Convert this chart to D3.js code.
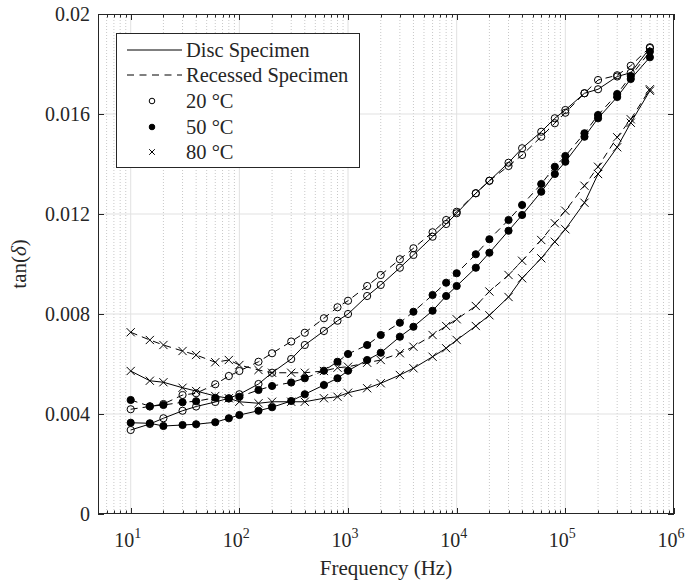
<!DOCTYPE html>
<html><head><meta charset="utf-8">
<script src="https://cdn.jsdelivr.net/npm/d3@7"></script>
<style>body{margin:0;background:#fff}svg{display:block}text{font-family:"Liberation Serif","Times New Roman",serif;fill:#262626}</style>
</head><body><svg id="c" width="689" height="580"></svg>
<script>
const freqs=[10,15,20,30,40,60,80,100,150,200,300,400,600,800,1000,1500,2000,3000,4000,6000,8000,1e4,1.5e4,2e4,3e4,4e4,6e4,8e4,1e5,1.5e5,2e5,3e5,4e5,6e5];
const disc20=[0.00336,0.0036,0.00383,0.00413,0.0043,0.00448,0.00463,0.00479,0.0052,0.00565,0.0062,0.00676,0.00732,0.00773,0.0080,0.00872,0.00916,0.00985,0.01036,0.01109,0.0116,0.01203,0.01283,0.01333,0.01405,0.01463,0.01529,0.01583,0.01616,0.01683,0.01699,0.0175,0.01765,0.01864];
const rec20=[0.00419,0.0043,0.0044,0.00476,0.00483,0.00519,0.00552,0.00572,0.00609,0.00643,0.0069,0.00725,0.00783,0.00827,0.00853,0.00912,0.00956,0.01019,0.01063,0.01127,0.01176,0.01209,0.01283,0.01333,0.01392,0.01436,0.01509,0.01563,0.01605,0.01683,0.01736,0.01755,0.01793,0.01867];
const disc50=[0.00365,0.00363,0.00352,0.00356,0.00359,0.00367,0.00383,0.00396,0.00413,0.00427,0.00452,0.00479,0.00516,0.00543,0.00573,0.00616,0.00645,0.00709,0.00749,0.00813,0.00872,0.00912,0.00985,0.01045,0.01133,0.01196,0.01289,0.0136,0.01409,0.01509,0.01583,0.01668,0.0174,0.01827];
const rec50=[0.00456,0.00431,0.00436,0.00447,0.00451,0.00465,0.00462,0.00469,0.00496,0.00512,0.00526,0.00543,0.00573,0.00609,0.0064,0.00676,0.00716,0.00765,0.00809,0.00876,0.00925,0.00963,0.01039,0.01099,0.01176,0.01236,0.0132,0.01389,0.01432,0.01523,0.01596,0.0168,0.01752,0.0185];
const disc80=[0.00572,0.00533,0.00527,0.00505,0.00492,0.00472,0.00463,0.00449,0.00443,0.00449,0.00449,0.00449,0.00463,0.00469,0.00485,0.00503,0.00523,0.00556,0.00583,0.00629,0.00663,0.00696,0.00752,0.00795,0.00868,0.00943,0.01023,0.01089,0.01139,0.01245,0.0136,0.01467,0.01565,0.01693];
const rec80=[0.00727,0.00696,0.00676,0.00652,0.00636,0.00607,0.00616,0.00596,0.00576,0.00565,0.00565,0.00565,0.00572,0.00585,0.00589,0.00605,0.00616,0.00643,0.00669,0.00716,0.00752,0.00779,0.00832,0.0089,0.00956,0.01013,0.01096,0.01163,0.01213,0.01313,0.01389,0.01507,0.01579,0.01699];
const yTicks=[0,0.004,0.008,0.012,0.016,0.02];
const yTickLabels=["0","0.004","0.008","0.012","0.016","0.02"];
const xTicks=[10,100,1000,1e4,1e5,1e6];
const xTickExp=["1","2","3","4","5","6"];
const legendLabels=["Disc Specimen","Recessed Specimen","20 °C","50 °C","80 °C"];

const L=98,T=14,R=674,B=514;
const svg=d3.select("#c");
const x=d3.scaleLog().domain([5,1e6]).range([L,R]);
const y=d3.scaleLinear().domain([0,0.02]).range([B,T]);
const ink="#262626";

// minor grid
const minor=[];
for(let e=0;e<6;e++)for(let m=1;m<10;m++){const v=m*Math.pow(10,e);if(v>5&&v<1e6&&m!==1)minor.push(v);}
const g=svg.append("g");
g.selectAll(".mg").data(minor).enter().append("line")
 .attr("x1",d=>x(d)).attr("x2",d=>x(d)).attr("y1",T).attr("y2",B)
 .attr("stroke","#c8c8c8").attr("stroke-width",1).attr("stroke-dasharray","1,2");
g.selectAll(".xg").data(xTicks.slice(0,5)).enter().append("line")
 .attr("x1",d=>x(d)).attr("x2",d=>x(d)).attr("y1",T).attr("y2",B)
 .attr("stroke","#e1e1e1").attr("stroke-width",1);
g.selectAll(".yg").data(yTicks.slice(1,5)).enter().append("line")
 .attr("x1",L).attr("x2",R).attr("y1",d=>y(d)).attr("y2",d=>y(d))
 .attr("stroke","#e1e1e1").attr("stroke-width",1);

// series
const series=[
 {v:disc20,dash:null,m:"o"},{v:rec20,dash:"7,5",m:"o"},
 {v:disc50,dash:null,m:"f"},{v:rec50,dash:"7,5",m:"f"},
 {v:disc80,dash:null,m:"x"},{v:rec80,dash:"7,5",m:"x"}];
const line=d3.line().x((d,i)=>x(freqs[i])).y(d=>y(d));
function marker(sel,type,cx,cy,s){
  if(type==="o") sel.append("circle").attr("cx",cx).attr("cy",cy).attr("r",s).attr("fill","none").attr("stroke","#000").attr("stroke-width",1);
  else if(type==="f") sel.append("circle").attr("cx",cx).attr("cy",cy).attr("r",s).attr("fill","#000").attr("stroke","#000").attr("stroke-width",1);
  else { const h=s+0.5; sel.append("path").attr("d",`M${cx-h},${cy-h}L${cx+h},${cy+h}M${cx-h},${cy+h}L${cx+h},${cy-h}`).attr("stroke","#000").attr("stroke-width",1).attr("fill","none"); }
}
series.forEach(s=>{
  svg.append("path").datum(s.v).attr("d",line).attr("fill","none").attr("stroke","#000").attr("stroke-width",1)
   .attr("stroke-dasharray",s.dash);
  const mg=svg.append("g");
  s.v.forEach((d,i)=>marker(mg,s.m,x(freqs[i]),y(d),3.6));
});

// axes box and ticks (inside)
const ax=svg.append("g").attr("stroke",ink).attr("stroke-width",1);
ax.append("rect").attr("x",L+0.5).attr("y",T+0.5).attr("width",R-L-1).attr("height",B-T-1).attr("fill","none");
xTicks.forEach(v=>{const px=Math.round(x(v))+0.5;
  ax.append("line").attr("x1",px).attr("x2",px).attr("y1",B).attr("y2",B-6);
  ax.append("line").attr("x1",px).attr("x2",px).attr("y1",T).attr("y2",T+6);});
minor.forEach(v=>{const px=Math.round(x(v))+0.5;
  ax.append("line").attr("x1",px).attr("x2",px).attr("y1",B).attr("y2",B-3.5);
  ax.append("line").attr("x1",px).attr("x2",px).attr("y1",T).attr("y2",T+3.5);});
yTicks.forEach(v=>{const py=Math.round(y(v))+0.5;
  ax.append("line").attr("x1",L).attr("x2",L+6).attr("y1",py).attr("y2",py);
  ax.append("line").attr("x1",R).attr("x2",R-6).attr("y1",py).attr("y2",py);});

// tick labels
svg.selectAll(".yl").data(yTicks).enter().append("text")
 .attr("x",L-8).attr("y",d=>y(d)+7).attr("text-anchor","end").attr("font-size",20)
 .text((d,i)=>yTickLabels[i]);
xTicks.forEach((v,i)=>{
  const t=svg.append("text").attr("x",x(v)-3).attr("y",547).attr("text-anchor","middle").attr("font-size",20);
  t.append("tspan").text("10");
  t.append("tspan").attr("dy",-9).attr("font-size",14).text(xTickExp[i]);
});
svg.append("text").attr("x",(L+R)/2).attr("y",575).attr("text-anchor","middle").attr("font-size",21).text("Frequency (Hz)");
const yl=svg.append("text").attr("transform",`translate(26,${(T+B)/2}) rotate(-90)`).attr("text-anchor","middle").attr("font-size",21);
yl.append("tspan").text("tan(");
yl.append("tspan").attr("font-style","italic").text("δ");
yl.append("tspan").text(")");

// legend
const lg=svg.append("g");
lg.append("rect").attr("x",116.5).attr("y",33.5).attr("width",243).attr("height",134).attr("fill","#fff").attr("stroke",ink).attr("stroke-width",1);
const rowY=[50,75,101,127,152];
legendLabels.forEach((t,i)=>{
  lg.append("text").attr("x",186).attr("y",rowY[i]+7).attr("font-size",20.5).text(t);
});
lg.append("line").attr("x1",127).attr("x2",182).attr("y1",rowY[0]).attr("y2",rowY[0]).attr("stroke","#000");
lg.append("line").attr("x1",127).attr("x2",182).attr("y1",rowY[1]).attr("y2",rowY[1]).attr("stroke","#000").attr("stroke-dasharray","7,5.5");
marker(lg,"o",152,rowY[2],2.8);
marker(lg,"f",152,rowY[3],2.8);
marker(lg,"x",152,rowY[4],2.3);
</script></body></html>
